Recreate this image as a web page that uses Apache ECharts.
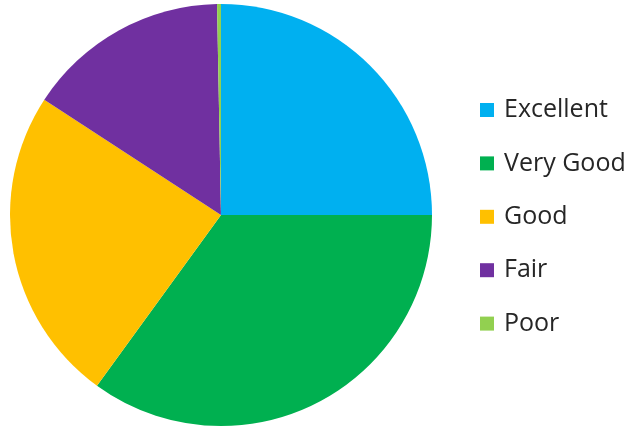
<!DOCTYPE html>
<html>
<head>
<meta charset="utf-8">
<script src="https://cdn.jsdelivr.net/npm/echarts@6/dist/echarts.min.js"></script>
<style>
html,body{margin:0;padding:0;background:#fff;}
#chart{width:643px;height:431px;}
</style>
</head>
<body>
<div id="chart"></div>
<script>
const categories = ["Excellent", "Very Good", "Good", "Fair", "Poor"];
const values = [25, 35, 24.2, 15.5, 0.3];
const colors = ["#00B0F0", "#00B050", "#FFC000", "#7030A0", "#92D050"];

const chart = echarts.init(document.getElementById('chart'), null, {renderer: 'canvas'});
chart.setOption({
  backgroundColor: '#ffffff',
  animation: false,
  color: colors,
  legend: {
    orient: 'vertical',
    left: 480,
    top: 96,
    padding: 0,
    icon: 'rect',
    itemWidth: 14,
    itemHeight: 14,
    itemGap: 25.4,
    data: categories,
    textStyle: {
      fontFamily: 'Open Sans',
      fontSize: 25,
      color: '#262626',
      lineHeight: 28,
      padding: [0, 0, 0, 5]
    }
  },
  series: [{
    type: 'pie',
    center: [221, 215],
    radius: 211,
    startAngle: 90,
    clockwise: true,
    label: {show: false},
    labelLine: {show: false},
    itemStyle: {borderWidth: 0},
    data: categories.map((c, i) => ({name: c, value: values[i]}))
  }]
});
</script>
</body>
</html>
